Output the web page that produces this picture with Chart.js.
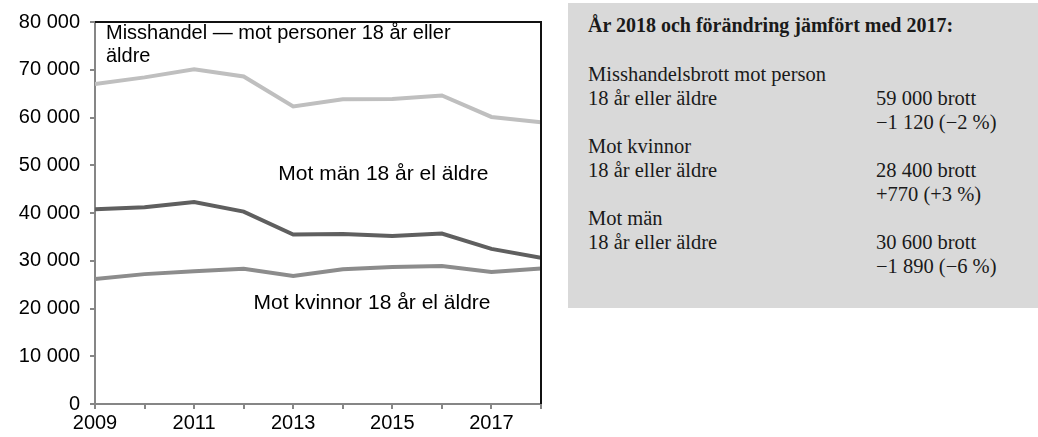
<!DOCTYPE html>
<html>
<head>
<meta charset="utf-8">
<script src="https://cdn.jsdelivr.net/npm/chart.js@4/dist/chart.umd.min.js"></script>
<style>
  html, body { margin: 0; padding: 0; background: #fff; width: 1038px; height: 437px; overflow: hidden; }
  #c { position: absolute; left: 0; top: 0; }
  #box { position: absolute; left: 568px; top: 3px; width: 470px; height: 305px; background: #d9d9d9;
         font-family: "Liberation Serif", "DejaVu Serif", serif; color: #1a1a1a; }
  .ln { position: absolute; white-space: nowrap; font-size: 20.5px; line-height: 24px; }
  .title { font-weight: bold; font-size: 20px; }
</style>
</head>
<body>
<canvas id="c" width="560" height="437"></canvas>
<div id="box"></div>
<script>
// ---- data ----
const years = [2009, 2010, 2011, 2012, 2013, 2014, 2015, 2016, 2017, 2018];
const xTickLabels = ['2009', '', '2011', '', '2013', '', '2015', '', '2017', ''];
const totalAdults = [67000, 68400, 70100, 68600, 62300, 63800, 63900, 64600, 60120, 59000];
const againstMen = [40800, 41200, 42300, 40300, 35500, 35600, 35200, 35700, 32490, 30600];
const againstWomen = [26200, 27200, 27800, 28300, 26800, 28200, 28700, 28900, 27630, 28400];
const seriesLabels = ['Misshandel — mot personer 18 år eller äldre', 'Mot män 18 år el äldre', 'Mot kvinnor 18 år el äldre'];
const annotationLines = [['Misshandel — mot personer 18 år eller', 'äldre'], ['Mot män 18 år el äldre'], ['Mot kvinnor 18 år el äldre']];
const summaryTitle = 'År 2018 och förändring jämfört med 2017:';
const summaryLeft = ['Misshandelsbrott mot person', '18 år eller äldre', '', 'Mot kvinnor', '18 år eller äldre', '', 'Mot män', '18 år eller äldre', ''];
const summaryRight = ['', '59 000 brott', '\u22121 120 (\u22122 %)', '', '28 400 brott', '+770 (+3 %)', '', '30 600 brott', '\u22121 890 (\u22126 %)'];

// ---- summary box ----
const box = document.getElementById('box');
function addLine(text, left, top, cls) {
  const d = document.createElement('div');
  d.className = 'ln' + (cls ? ' ' + cls : '');
  d.style.left = left + 'px';
  d.style.top = top + 'px';
  d.textContent = text;
  box.appendChild(d);
}
addLine(summaryTitle, 20, 10, 'title');
for (let i = 0; i < summaryLeft.length; i++) {
  if (summaryLeft[i]) addLine(summaryLeft[i], 20, 59 + i * 24);
  if (summaryRight[i]) addLine(summaryRight[i], 308, 59 + i * 24);
}

// ---- chart ----
const pts = arr => years.map((y, i) => ({ x: y, y: arr[i] }));
const fmt = v => String(v).replace(/\B(?=(\d{3})+(?!\d))/g, ' ');

const framePlugin = {
  id: 'frame',
  afterDatasetsDraw(chart) {
    const { ctx, chartArea: a } = chart;
    ctx.save();
    ctx.strokeStyle = '#111';
    ctx.lineWidth = 2;
    ctx.beginPath();
    ctx.moveTo(a.left, a.top);
    ctx.lineTo(a.right, a.top);
    ctx.lineTo(a.right, a.bottom);
    ctx.stroke();
    ctx.restore();
  },
  afterDraw(chart) {
    const { ctx } = chart;
    const xs = chart.scales.x, ys = chart.scales.y;
    ctx.save();
    ctx.fillStyle = '#000';
    ctx.textBaseline = 'middle';
    ctx.textAlign = 'left';
    ctx.font = '20px "Liberation Sans", Arial, sans-serif';
    ctx.fillText(annotationLines[0][0], xs.getPixelForValue(2009) + 11, ys.getPixelForValue(77500));
    ctx.fillText(annotationLines[0][1], xs.getPixelForValue(2009) + 11, ys.getPixelForValue(72700));
    ctx.font = '21px "Liberation Sans", Arial, sans-serif';
    ctx.fillText(annotationLines[1][0], xs.getPixelForValue(2012.7), ys.getPixelForValue(48100));
    ctx.fillText(annotationLines[2][0], xs.getPixelForValue(2012.2), ys.getPixelForValue(21200));
    ctx.restore();
  }
};

new Chart(document.getElementById('c'), {
  type: 'line',
  data: {
    datasets: [
      { label: seriesLabels[0], data: pts(totalAdults), borderColor: '#bfbfbf', borderWidth: 4, pointRadius: 0, tension: 0 },
      { label: seriesLabels[1], data: pts(againstMen), borderColor: '#5f5f5f', borderWidth: 4, pointRadius: 0, tension: 0 },
      { label: seriesLabels[2], data: pts(againstWomen), borderColor: '#8c8c8c', borderWidth: 4, pointRadius: 0, tension: 0 }
    ]
  },
  options: {
    responsive: false,
    animation: false,
    devicePixelRatio: 1,
    layout: { padding: { top: 22, right: 19, left: 0, bottom: 0 } },
    plugins: { legend: { display: false }, tooltip: { enabled: false } },
    scales: {
      x: {
        type: 'linear', min: 2009, max: 2018,
        afterFit: s => { s.height = 33; },
        afterBuildTicks: s => { s.ticks = years.map(v => ({ value: v })); },
        ticks: {
          autoSkip: false, maxRotation: 0, minRotation: 0, padding: 2,
          color: '#000', font: { family: '"Liberation Sans", Arial, sans-serif', size: 20 },
          callback: (v, i) => xTickLabels[i]
        },
        grid: { drawOnChartArea: false, drawTicks: true, tickLength: 5, color: '#868686', lineWidth: 2 },
        border: { color: '#868686', width: 2 }
      },
      y: {
        min: 0, max: 80000,
        afterFit: s => { s.width = 95; },
        ticks: {
          stepSize: 10000, padding: 10,
          color: '#000', font: { family: '"Liberation Sans", Arial, sans-serif', size: 20 },
          callback: v => fmt(v)
        },
        grid: { drawOnChartArea: false, drawTicks: true, tickLength: 5, color: '#868686', lineWidth: 2 },
        border: { color: '#868686', width: 2 }
      }
    }
  },
  plugins: [framePlugin]
});
</script>
</body>
</html>
